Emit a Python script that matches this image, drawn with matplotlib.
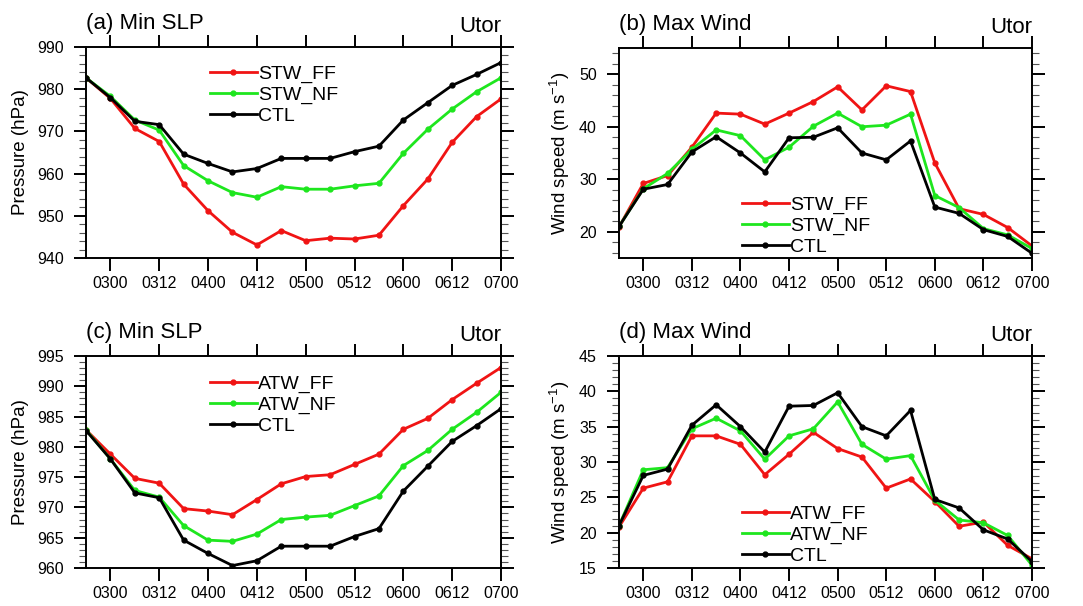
import numpy as np
import matplotlib
matplotlib.use('Agg')
import matplotlib.pyplot as plt
from matplotlib.ticker import MultipleLocator

plt.rcParams['font.family'] = ['Liberation Sans', 'DejaVu Sans']
plt.rcParams['mathtext.default'] = 'regular'

# 6-hourly output times (DDHH)
times = ['0218', '0300', '0306', '0312', '0318', '0400', '0406', '0412', '0418',
         '0500', '0506', '0512', '0518', '0600', '0606', '0612', '0618', '0700']
tick_times = ['0300', '0312', '0400', '0412', '0500', '0512', '0600', '0612', '0700']

# minimum sea level pressure (hPa)
slp_ctl = [982.7, 978.0, 972.4, 971.6, 964.6, 962.4, 960.4, 961.2, 963.6,
           963.6, 963.6, 965.2, 966.5, 972.7, 976.8, 980.9, 983.5, 986.3]
slp_stw_ff = [982.7, 977.8, 970.7, 967.6, 957.5, 951.2, 946.1, 943.1, 946.5,
              944.1, 944.7, 944.5, 945.4, 952.4, 958.7, 967.4, 973.5, 977.7]
slp_stw_nf = [982.7, 978.3, 972.7, 970.3, 961.9, 958.3, 955.5, 954.4, 956.9,
              956.3, 956.3, 957.1, 957.7, 964.8, 970.5, 975.3, 979.4, 982.7]
slp_atw_ff = [982.8, 978.8, 974.8, 974.0, 969.8, 969.4, 968.8, 971.3, 973.9,
              975.1, 975.4, 977.1, 978.8, 982.9, 984.7, 987.8, 990.5, 993.1]
slp_atw_nf = [982.8, 978.0, 972.8, 971.7, 967.0, 964.6, 964.4, 965.6, 968.0,
              968.4, 968.7, 970.3, 971.9, 976.9, 979.4, 982.9, 985.7, 989.0]

# maximum 10-m wind (m/s)
wind_ctl = [21.0, 28.1, 29.0, 35.2, 38.1, 35.0, 31.4, 37.9, 38.0,
            39.8, 35.0, 33.7, 37.3, 24.7, 23.5, 20.4, 19.1, 15.9]
wind_stw_ff = [20.9, 29.2, 30.7, 36.1, 42.6, 42.4, 40.5, 42.6, 44.8,
               47.6, 43.2, 47.8, 46.7, 33.1, 24.4, 23.3, 20.8, 17.3]
wind_stw_nf = [21.0, 28.2, 31.1, 35.7, 39.4, 38.3, 33.7, 36.1, 40.1,
               42.6, 40.0, 40.3, 42.4, 26.9, 24.6, 20.6, 19.4, 16.8]
wind_atw_ff = [20.8, 26.3, 27.2, 33.7, 33.7, 32.5, 28.2, 31.1, 34.2,
               31.9, 30.7, 26.3, 27.6, 24.4, 20.9, 21.5, 18.2, 16.3]
wind_atw_nf = [21.0, 28.9, 29.2, 34.7, 36.2, 34.4, 30.4, 33.7, 34.7,
               38.5, 32.5, 30.4, 30.9, 24.6, 21.8, 21.4, 19.6, 15.4]

red = '#f01414'
green = '#1ee61e'
black = '#000000'

W, H = 1083, 606


def px_axes(fig, left, top, right, bottom):
    return fig.add_axes([left / W, 1 - bottom / H, (right - left) / W, (bottom - top) / H])


def style_axes(ax, ylim, ymajor, yminor):
    x = np.arange(len(times))
    ax.set_xlim(x[0], x[-1])
    ticks = [times.index(t) for t in tick_times]
    ax.set_xticks(ticks)
    ax.set_xticklabels(tick_times)
    ax.set_ylim(*ylim)
    ax.yaxis.set_major_locator(MultipleLocator(ymajor))
    ax.yaxis.set_minor_locator(MultipleLocator(yminor))
    ax.tick_params(axis='both', which='major', direction='out', length=9, width=1.4,
                   labelsize=11.5, top=True, right=True)
    ax.tick_params(axis='x', which='major', pad=4)
    ax.tick_params(axis='y', which='major', pad=7)
    ax.tick_params(axis='y', which='minor', direction='out', length=5, width=0.8,
                   color='#555555', left=True, right=True)
    for sp in ax.spines.values():
        sp.set_linewidth(1.4)


def draw_panel(ax, series, title, ylabel, label_x, ylim, ymajor, yminor, leg_pos):
    x = np.arange(len(times))
    for vals, color, name in series:
        ax.plot(x, vals, color=color, lw=2.0, marker='o', ms=3.5, label=name)
    style_axes(ax, ylim, ymajor, yminor)
    ax.annotate(title, xy=(0, 1), xycoords='axes fraction', xytext=(0, 13),
                textcoords='offset points', ha='left', va='baseline', fontsize=16)
    ax.annotate('Utor', xy=(1, 1), xycoords='axes fraction', xytext=(0, 11),
                textcoords='offset points', ha='right', va='baseline', fontsize=16)
    ax.set_ylabel(ylabel, fontsize=13.5)
    ax.yaxis.set_label_coords(label_x, 0.5)
    ax.legend(loc='upper left', bbox_to_anchor=leg_pos, frameon=False, fontsize=14,
              handlelength=2.4, handletextpad=0.05, borderpad=0, borderaxespad=0,
              labelspacing=0.17)


fig = plt.figure(figsize=(W / 100, H / 100), dpi=100)

ax_a = px_axes(fig, 86, 47, 501, 258)
ax_b = px_axes(fig, 619, 48, 1032, 258)
ax_c = px_axes(fig, 86, 356, 501, 568)
ax_d = px_axes(fig, 619, 356, 1032, 568)

wind_label = 'Wind speed (m s$^{-1}$)'

draw_panel(ax_a, [(slp_stw_ff, red, 'STW_FF'), (slp_stw_nf, green, 'STW_NF'), (slp_ctl, black, 'CTL')],
           '(a) Min SLP', 'Pressure (hPa)', -0.137, (940, 990), 10, 2, (0.299, 0.915))
draw_panel(ax_b, [(wind_stw_ff, red, 'STW_FF'), (wind_stw_nf, green, 'STW_NF'), (wind_ctl, black, 'CTL')],
           '(b) Max Wind', wind_label, -0.114, (15, 55), 10, 2, (0.298, 0.296))
draw_panel(ax_c, [(slp_atw_ff, red, 'ATW_FF'), (slp_atw_nf, green, 'ATW_NF'), (slp_ctl, black, 'CTL')],
           '(c) Min SLP', 'Pressure (hPa)', -0.137, (960, 995), 5, 1, (0.299, 0.911))
draw_panel(ax_d, [(wind_atw_ff, red, 'ATW_FF'), (wind_atw_nf, green, 'ATW_NF'), (wind_ctl, black, 'CTL')],
           '(d) Max Wind', wind_label, -0.114, (15, 45), 5, 1, (0.298, 0.298))

fig.savefig('out.png', dpi=100)
